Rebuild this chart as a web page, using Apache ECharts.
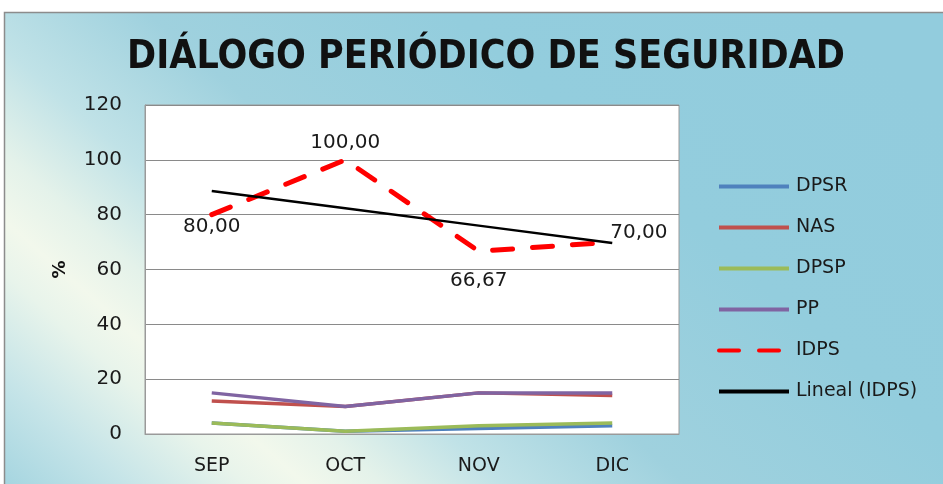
<!DOCTYPE html>
<html>
<head>
<meta charset="utf-8">
<script src="https://cdn.jsdelivr.net/npm/echarts@6/dist/echarts.min.js"></script>
<style>
  html, body { margin: 0; padding: 0; background: #fff; }
  #chart { width: 943px; height: 484px; }
</style>
</head>
<body>
<div id="chart"></div>
<script>
  var months = ['SEP', 'OCT', 'NOV', 'DIC']
  var dpsr = [4, 1, 2, 3]
  var nas = [12, 10, 15, 14]
  var dpsp = [4, 1, 3, 4]
  var pp = [15, 10, 15, 15]
  var idps = [80, 100, 66.67, 70]
  var yTicks = [0, 20, 40, 60, 80, 100, 120]

  // linear trend of IDPS (least squares, like the Excel "Lineal" trendline)
  function trend (vals) {
    var n = vals.length, sx = 0, sy = 0, sxy = 0, sxx = 0
    vals.forEach(function (v, i) {
      var x = i + 1
      sx += x; sy += v; sxy += x * v; sxx += x * x
    })
    var b = (n * sxy - sx * sy) / (n * sxx - sx * sx)
    var a = (sy - b * sx) / n
    return vals.map(function (v, i) { return +(a + b * (i + 1)).toFixed(2) })
  }
  var idpsTrend = trend(idps)

  var font = 'DejaVu Sans, sans-serif'

  // where each IDPS value label sits
  var idpsLabels = [
    { position: 'bottom', distance: 2 },
    { position: 'top', distance: 7 },
    { position: 'bottom', distance: 20 },
    { position: 'right', distance: 0, offset: [-2, -9] }
  ]

  function lineSeries (name, data, color) {
    return {
      name: name,
      type: 'line',
      data: data,
      symbol: 'none',
      lineStyle: { color: color, width: 3.5 },
      itemStyle: { color: color },
      z: 2
    }
  }

  var chart = echarts.init(document.getElementById('chart'))
  chart.setOption({
    animation: false,
    graphic: [{
      type: 'rect',
      z: -10,
      silent: true,
      shape: { x: 4.5, y: 12.5, width: 950, height: 490 },
      style: {
        stroke: '#8c8c8c',
        lineWidth: 1.5,
        // diagonal light streak from the left edge down to the bottom
        fill: {
          type: 'linear',
          x: -115, y: 382, x2: 477, y2: -296,
          global: true,
          colorStops: [
            { offset: 0, color: '#a5d5e0' },
            { offset: 0.089, color: '#c5e4e8' },
            { offset: 0.178, color: '#e8f4eb' },
            { offset: 0.222, color: '#f2f8ec' },
            { offset: 0.278, color: '#e4f2ea' },
            { offset: 0.367, color: '#c0e2e7' },
            { offset: 0.5, color: '#9fd1de' },
            { offset: 0.722, color: '#93cddd' },
            { offset: 1, color: '#92ccdd' }
          ]
        }
      }
    }],
    title: {
      text: 'DIÁLOGO PERIÓDICO DE SEGURIDAD',
      left: 481,
      top: 33,
      textAlign: 'center',
      textStyle: {
        fontFamily: 'DejaVu Sans Condensed, DejaVu Sans, sans-serif',
        fontWeight: 'bold',
        fontSize: 39,
        color: '#111'
      }
    },
    legend: {
      orient: 'vertical',
      left: 717,
      top: 177,
      padding: 0,
      itemWidth: 70,
      itemHeight: 4,
      itemGap: 22,
      lineStyle: { width: 4 },
      itemStyle: { opacity: 0 },
      textStyle: { fontFamily: font, fontSize: 19, lineHeight: 18, color: '#1a1a1a', padding: [0, 0, 0, 2] },
      data: ['DPSR', 'NAS', 'DPSP', 'PP', 'IDPS', 'Lineal (IDPS)']
    },
    grid: {
      left: 145,
      top: 105,
      right: 264,
      bottom: 50,
      show: true,
      backgroundColor: '#fff',
      borderColor: '#9a9a9a',
      borderWidth: 1
    },
    xAxis: {
      type: 'category',
      data: months,
      boundaryGap: true,
      axisLine: { lineStyle: { color: '#9a9a9a' } },
      axisTick: { show: false },
      axisLabel: { fontFamily: font, fontSize: 19, color: '#1a1a1a', margin: 23 }
    },
    yAxis: {
      type: 'value',
      min: yTicks[0],
      max: yTicks[yTicks.length - 1],
      interval: 20,
      name: '%',
      nameLocation: 'middle',
      nameGap: 76,
      nameRotate: 90,
      nameTextStyle: { fontFamily: font, fontSize: 18, fontWeight: 'bold', color: '#111' },
      axisLine: { show: true, lineStyle: { color: '#9a9a9a' } },
      axisTick: { show: false },
      splitLine: { lineStyle: { color: '#8a8a8a', width: 1 } },
      axisLabel: { fontFamily: font, fontSize: 20, color: '#1a1a1a', margin: 23 }
    },
    series: [
      lineSeries('DPSR', dpsr, '#4f81bd'),
      lineSeries('NAS', nas, '#c0504d'),
      lineSeries('DPSP', dpsp, '#9bbb59'),
      lineSeries('PP', pp, '#8064a2'),
      {
        name: 'IDPS',
        type: 'line',
        data: idps.map(function (v, i) {
          return { value: v, label: idpsLabels[i] }
        }),
        symbol: 'circle',
        symbolSize: 0.1,
        showSymbol: true,
        lineStyle: { color: '#ff0000', width: 5, type: [20, 20], cap: 'round' },
        itemStyle: { color: '#ff0000' },
        label: {
          show: true,
          fontFamily: font,
          fontSize: 20,
          color: '#1a1a1a',
          formatter: function (p) { return p.value.toFixed(2).replace('.', ',') }
        },
        z: 3
      },
      {
        name: 'Lineal (IDPS)',
        type: 'line',
        data: idpsTrend,
        symbol: 'none',
        lineStyle: { color: '#000', width: 2.5 },
        itemStyle: { color: '#000' },
        z: 4
      }
    ]
  })
</script>
</body>
</html>
